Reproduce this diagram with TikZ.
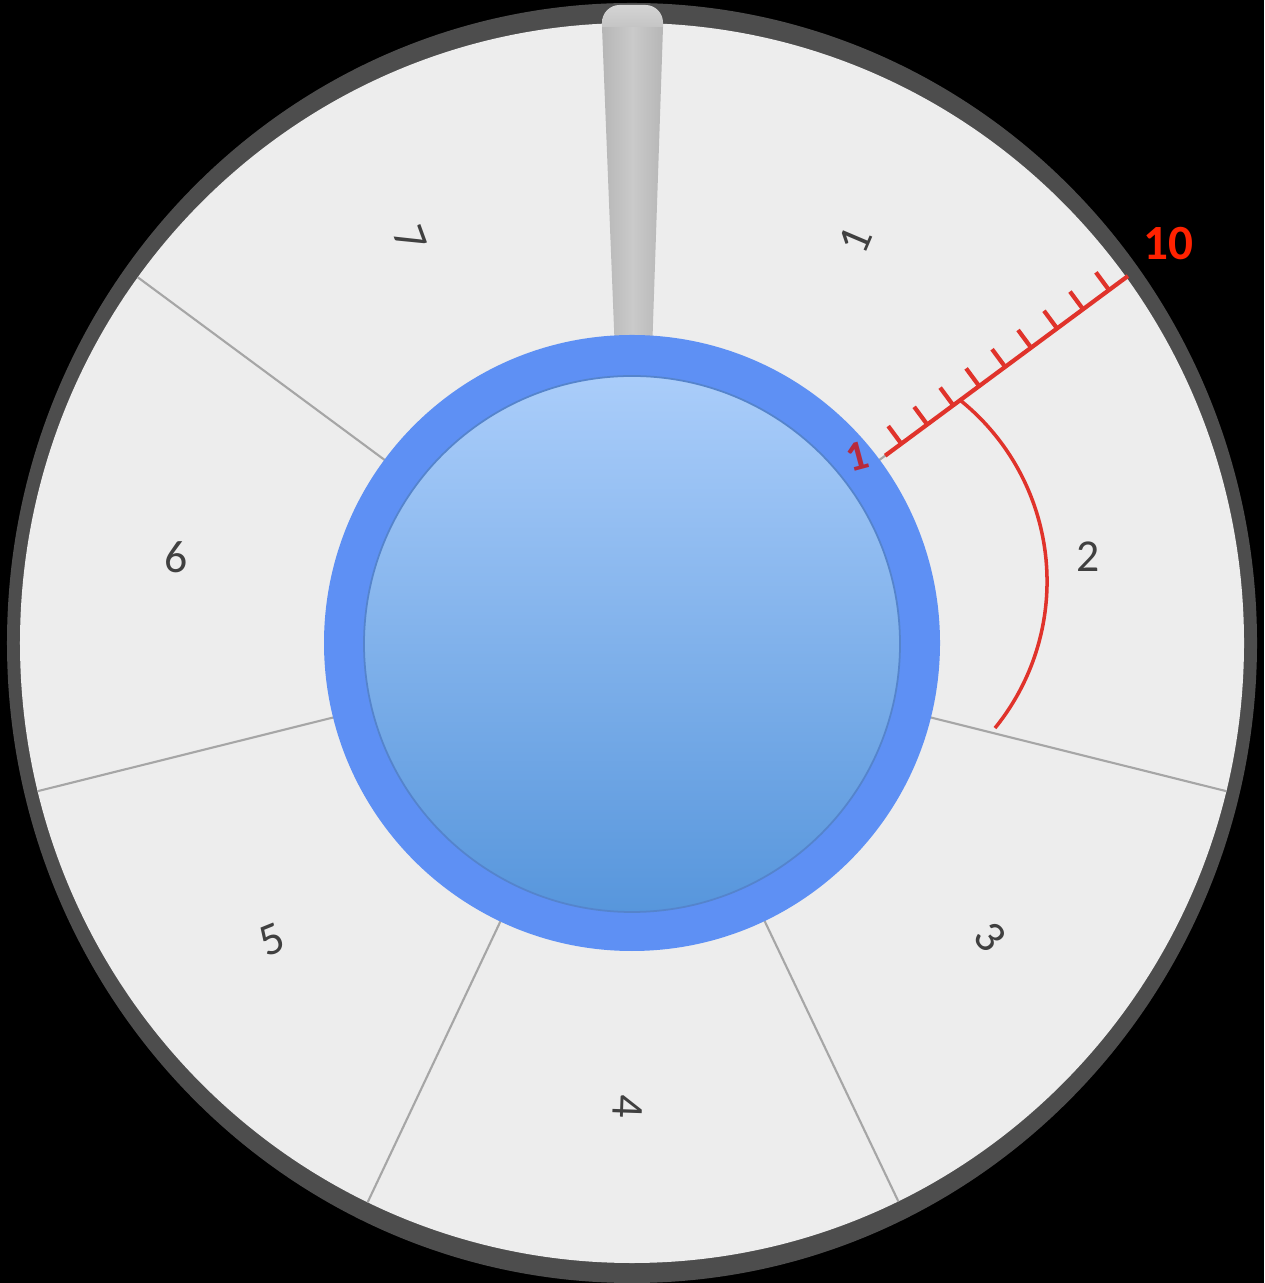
\documentclass[tikz,border=0pt]{standalone}
\usepackage{fontspec}
\setmainfont{Carlito}

\definecolor{ringgray}{HTML}{4D4D4D}
\definecolor{facegray}{HTML}{EDEDED}
\definecolor{linegray}{HTML}{A6A6A6}
\definecolor{numgray}{HTML}{404040}
\definecolor{knobring}{HTML}{5E90F4}
\definecolor{knobtop}{HTML}{AACDFA}
\definecolor{knobbottom}{HTML}{5796DC}
\definecolor{knobedge}{HTML}{5584CC}
\definecolor{scalered}{HTML}{E0332B}
\definecolor{tenred}{HTML}{FF2200}
\definecolor{onered}{HTML}{B82A3C}
\definecolor{needlemid}{HTML}{CACACA}
\definecolor{needleside}{HTML}{B6B6B6}
\definecolor{needlecap}{HTML}{D4D4D4}

\tikzset{
  sector/.style={draw=linegray, line width=0.6pt},
  num/.style={text=numgray, font=\fontsize{13}{15}\selectfont, inner sep=0pt},
  scaleline/.style={draw=scalered, line width=1.2pt},
}

\begin{document}
\begin{tikzpicture}
    % 0. Khung nen den
    \useasboundingbox (-6.32,-6.40) rectangle (6.32,6.43);
    \fill[black] (-6.32,-6.40) rectangle (6.32,6.43);

    % 1. Vanh ngoai va mat dia
    \fill[ringgray] (0,0) ellipse [x radius=6.25, y radius=6.40];
    \fill[facegray] (0,0) ellipse [x radius=6.12, y radius=6.20];

    % 2. Duong chia cac o
    \begin{scope}
        \clip (0,0) ellipse [x radius=6.12, y radius=6.20];
        \foreach \a in {89.5,36.5,-14,-64.5,-115.3,-166,143.5}
            \draw[sector] (\a:3) -- (\a:6.5);
    \end{scope}

    % 3. So cua cac o
    \foreach \n/\x/\y/\r in {1/2.23/4.03/67, 2/4.56/0.86/0, 3/3.58/-2.94/-50,
                             4/-0.04/-4.64/-92, 5/-3.60/-2.97/22,
                             6/-4.56/0.86/0, 7/-2.22/4.05/-70}
        \node[num, rotate=\r] (lbl\n) at (\x,\y) {\n};

    % 4. Kim chi
    \shade[left color=needleside, right color=needleside, middle color=needlemid]
        (-0.30,6.16) -- (0.31,6.16) -- (0.20,2.9) -- (-0.17,2.9) -- cycle;
    \shade[top color=needlecap, bottom color=needleside!80!white]
        (-0.30,6.16) [rounded corners=5pt] -- (-0.30,6.38) -- (0.31,6.38)
        [sharp corners] -- (0.31,6.16) -- cycle;

    % 5. Nut tron mau xanh
    \fill[knobring] (0,0) circle (3.08);
    \shadedraw[top color=knobtop, bottom color=knobbottom, draw=knobedge, line width=0.5pt]
        (0,-0.01) circle (2.68);

    % 6. Thang do mau do
    \draw[scaleline] (36.5:3.15) -- (36.5:6.17);
    \foreach \i in {0,...,8}
        \draw[scaleline] (36.5:{3.35+0.323*\i}) -- ++(126.5:0.22);
    \draw[scalered, line width=1pt] (3.279,2.430)
        arc [start angle=51.3, end angle=-39.1, radius=2.325];

    % 7. Nhan cua thang do
    \node[text=onered, font=\bfseries\fontsize{12}{14}\selectfont, rotate=15] (low) at (2.25,1.86) {1};
    \node[text=tenred, font=\bfseries\fontsize{14}{16}\selectfont] (high) at (5.36,3.99) {10};

\end{tikzpicture}
\end{document}
